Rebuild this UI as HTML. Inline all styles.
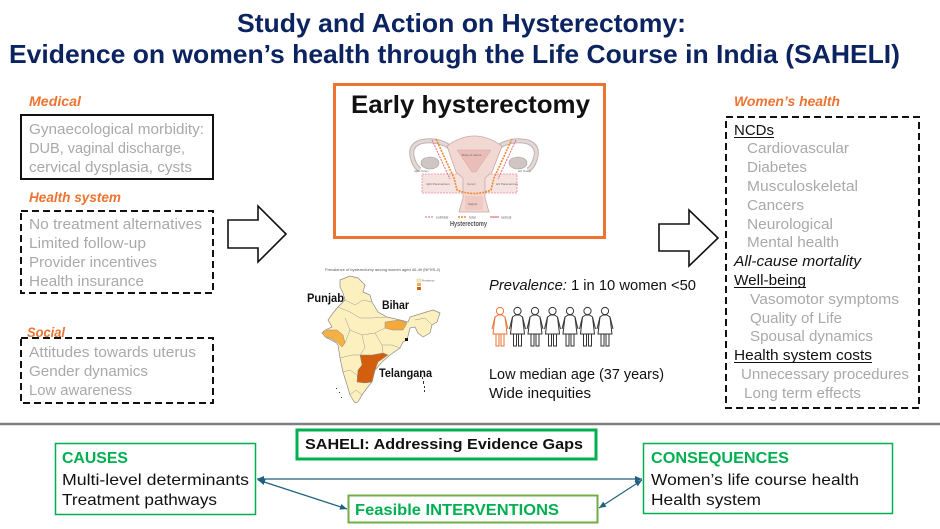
<!DOCTYPE html>
<html>
<head>
<meta charset="utf-8">
<style>
html,body{margin:0;padding:0;background:#fff;}
svg{display:block;}
text{font-family:"Liberation Sans",Arial,sans-serif;}
</style>
</head>
<body>
<svg width="940" height="529" viewBox="0 0 940 529" xmlns="http://www.w3.org/2000/svg">
<rect width="940" height="529" fill="#fff"/>

<!-- Title -->
<text x="237" y="32" font-size="26" font-weight="bold" fill="#0b2461" textLength="449" lengthAdjust="spacingAndGlyphs">Study and Action on Hysterectomy:</text>
<text x="9" y="63" font-size="26" font-weight="bold" fill="#0b2461" textLength="891" lengthAdjust="spacingAndGlyphs">Evidence on women’s health through the Life Course in India (SAHELI)</text>

<!-- Left column -->
<g font-size="13.5" font-weight="bold" font-style="italic" fill="#ed7331">
<text x="29" y="106" textLength="52" lengthAdjust="spacingAndGlyphs">Medical</text>
<text x="29" y="202" textLength="92" lengthAdjust="spacingAndGlyphs">Health system</text>
<text x="27" y="337" textLength="38" lengthAdjust="spacingAndGlyphs">Social</text>
</g>
<rect x="21" y="115" width="192" height="64" fill="none" stroke="#111" stroke-width="2"/>
<rect x="21" y="211" width="192" height="82" fill="none" stroke="#111" stroke-width="2" stroke-dasharray="7 4"/>
<rect x="21" y="338" width="192" height="65" fill="none" stroke="#111" stroke-width="2" stroke-dasharray="7 4"/>
<g font-size="15" fill="#a9a9a9">
<text x="29" y="134" textLength="175" lengthAdjust="spacingAndGlyphs">Gynaecological morbidity:</text>
<text x="29" y="153" textLength="156" lengthAdjust="spacingAndGlyphs">DUB, vaginal discharge,</text>
<text x="29" y="172" textLength="163" lengthAdjust="spacingAndGlyphs">cervical dysplasia, cysts</text>
<text x="29" y="229" textLength="173" lengthAdjust="spacingAndGlyphs">No treatment alternatives</text>
<text x="29" y="248" textLength="117" lengthAdjust="spacingAndGlyphs">Limited follow-up</text>
<text x="29" y="267" textLength="128" lengthAdjust="spacingAndGlyphs">Provider incentives</text>
<text x="29" y="286" textLength="115" lengthAdjust="spacingAndGlyphs">Health insurance</text>
<text x="29" y="357" textLength="167" lengthAdjust="spacingAndGlyphs">Attitudes towards uterus</text>
<text x="29" y="376" textLength="119" lengthAdjust="spacingAndGlyphs">Gender dynamics</text>
<text x="29" y="395" textLength="103" lengthAdjust="spacingAndGlyphs">Low awareness</text>
</g>

<!-- Block arrows -->
<polygon points="228,220 258,220 258,206 286,234 258,262 258,248 228,248" fill="#fff" stroke="#111" stroke-width="1.6" stroke-linejoin="miter"/>
<polygon points="659,224 689,224 689,210 718,238 689,266 689,251 659,251" fill="#fff" stroke="#111" stroke-width="1.6" stroke-linejoin="miter"/>

<!-- Early hysterectomy box -->
<rect x="334.5" y="84.5" width="270" height="153" fill="#fff" stroke="#ed7331" stroke-width="3"/>
<text x="351" y="113" font-size="25" font-weight="bold" fill="#111" textLength="239" lengthAdjust="spacingAndGlyphs">Early hysterectomy</text>

<!-- Uterus figure -->
<g>
  <!-- left tube & ovary -->
  <path d="M450,147 Q436,138 420,142 Q410,146 412,156 Q414,166 420,170" fill="none" stroke="#bdb3b1" stroke-width="5"/>
  <path d="M450,147 Q436,138 420,142 Q410,146 412,156 Q414,166 420,170" fill="none" stroke="#e3d8d6" stroke-width="3"/>
  <ellipse cx="430" cy="163" rx="9" ry="6" fill="#cfc6c4" stroke="#a9a09e" stroke-width="0.6"/>
  <!-- right tube & ovary -->
  <path d="M498,147 Q512,138 528,142 Q538,146 536,156 Q534,166 528,170" fill="none" stroke="#bdb3b1" stroke-width="5"/>
  <path d="M498,147 Q512,138 528,142 Q538,146 536,156 Q534,166 528,170" fill="none" stroke="#e3d8d6" stroke-width="3"/>
  <ellipse cx="518" cy="163" rx="9" ry="6" fill="#cfc6c4" stroke="#a9a09e" stroke-width="0.6"/>
  <!-- parametrium -->
  <rect x="422" y="174" width="95" height="19" fill="#f6e3e0" stroke="#e8899a" stroke-width="0.8" stroke-dasharray="2 1"/>
  <!-- uterus body -->
  <path d="M447,146 Q474,126 502,146 L492,172 L485,178 L485,198 L489,212 L459,212 L463,198 L463,178 L456,172 Z" fill="#f2d8d3" stroke="#c8a8a4" stroke-width="0.8"/>
  <path d="M457,150 L491,150 L476,172 L472,172 Z" fill="#e9bdb8" stroke="#d9a29d" stroke-width="0.5"/>
  <rect x="465" y="196" width="18" height="14" fill="#f0c9c4"/>
  <!-- cut lines -->
  <path d="M436,139 L454,178 L457,190 Q474,197 491,190 L494,178 L512,139" fill="none" stroke="#f08a2e" stroke-width="1.6" stroke-dasharray="2 1"/>
  <path d="M432,140 L450,179" fill="none" stroke="#e8697a" stroke-width="1" stroke-dasharray="2 1"/>
  <path d="M516,140 L498,179" fill="none" stroke="#e8697a" stroke-width="1" stroke-dasharray="2 1"/>
  <g font-size="3" fill="#666">
    <text x="462" y="156">Body of uterus</text>
    <text x="426" y="185">right Parametrium</text>
    <text x="496" y="185">left Parametrium</text>
    <text x="467" y="185">Cervix</text>
    <text x="468" y="205">Vagina</text>
    <text x="414" y="172">right Ovary</text>
    <text x="518" y="172">left Ovary</text>
  </g>
  <!-- legend -->
  <line x1="425" y1="217" x2="434" y2="217" stroke="#e8899a" stroke-width="1.2" stroke-dasharray="2 1"/>
  <text x="436" y="218.5" font-size="3.5" fill="#666">subtotal</text>
  <line x1="458" y1="217" x2="466" y2="217" stroke="#f08a2e" stroke-width="1.5" stroke-dasharray="2 1"/>
  <text x="469" y="218.5" font-size="3.5" fill="#666">total</text>
  <line x1="490" y1="217" x2="499" y2="217" stroke="#e8697a" stroke-width="1.2"/>
  <text x="501" y="218.5" font-size="3.5" fill="#666">radical</text>
  <text x="450" y="226" font-size="7.5" font-weight="bold" fill="#555" textLength="37" lengthAdjust="spacingAndGlyphs">Hysterectomy</text>
</g>

<!-- Map -->
<g>
  <text x="325" y="271" font-size="4" fill="#555" textLength="115" lengthAdjust="spacingAndGlyphs">Prevalence of hysterectomy among women aged 40-49 (NFHS-4)</text>
  <rect x="417" y="279" width="4" height="3" fill="#fdf0bf" stroke="#999" stroke-width="0.3"/>
  <rect x="417" y="283" width="4" height="3" fill="#f4b042"/>
  <rect x="417" y="287" width="4" height="3" fill="#d35f0e"/>
  <text x="422" y="281.5" font-size="2.5" fill="#666">Prevalence</text>
  <polygon points="340,280 350,276 358,278 365,285 363,292 370,295 372,302 378,312 387,317 400,320 408,322 410,317 423,313 433,310 440,313 437,322 432,325 430,333 423,337 418,333 415,327 410,328 407,340 403,342 400,348 390,355 382,362 375,370 372,382 367,388 362,395 358,402 355,403 350,395 347,385 343,372 340,358 338,345 335,342 327,338 322,333 325,330 332,327 328,320 333,313 338,307 345,300 343,293 340,287" fill="#fdf0bf" stroke="#8a8a8a" stroke-width="0.7"/>
  <!-- internal borders -->
  <g fill="none" stroke="#9a9a9a" stroke-width="0.5">
    <path d="M345,300 L355,305 L363,300 L372,302"/>
    <path d="M338,307 L350,312 L360,318 L372,318 L387,317"/>
    <path d="M345,318 L350,330 L345,343"/>
    <path d="M350,330 L362,335 L375,333 L385,328"/>
    <path d="M362,335 L365,348 L360,355"/>
    <path d="M375,333 L382,345 L392,345 L400,348"/>
    <path d="M382,345 L383,353"/>
    <path d="M340,358 L352,355 L360,355"/>
    <path d="M343,372 L350,370 L357,375 L358,382"/>
    <path d="M350,395 L356,390 L362,395"/>
    <path d="M415,320 L425,318 L432,325"/>
  </g>
  <polygon points="322,333 328,330 337,330 343,335 345,343 342,347 337,342 330,338 325,337" fill="#f4b042" stroke="#8a8a8a" stroke-width="0.5"/>
  <polygon points="385,322 400,320 407,323 403,330 393,330 385,328" fill="#f4a93a" stroke="#8a8a8a" stroke-width="0.5"/>
  <polygon points="360,355 372,355 383,353 388,355 378,362 375,370 372,382 365,383 357,382 358,370 362,365" fill="#d35f0e" stroke="#8a8a8a" stroke-width="0.5"/>
  <rect x="405" y="338" width="3" height="3" fill="#111"/>
  <g fill="#333">
    <rect x="422" y="377" width="1" height="2"/>
    <rect x="423" y="381" width="1" height="3"/>
    <rect x="424" y="386" width="1" height="2"/>
    <rect x="424" y="390" width="1" height="2"/>
    <rect x="336" y="388" width="1" height="1"/>
    <rect x="339" y="392" width="1" height="1"/>
    <rect x="341" y="397" width="1" height="1"/>
  </g>
  <g font-size="12" font-weight="bold" fill="#111">
    <text x="307" y="302" textLength="37" lengthAdjust="spacingAndGlyphs">Punjab</text>
    <text x="382" y="309" textLength="27" lengthAdjust="spacingAndGlyphs">Bihar</text>
    <text x="379" y="377" textLength="53" lengthAdjust="spacingAndGlyphs">Telangana</text>
  </g>
</g>

<!-- Prevalence text -->
<text x="489" y="290" font-size="15" fill="#111" textLength="207" lengthAdjust="spacingAndGlyphs"><tspan font-style="italic">Prevalence:</tspan> 1 in 10 women &lt;50</text>
<text x="489" y="379" font-size="15" fill="#111" textLength="175" lengthAdjust="spacingAndGlyphs">Low median age (37 years)</text>
<text x="489" y="398" font-size="15" fill="#111" textLength="102" lengthAdjust="spacingAndGlyphs">Wide inequities</text>

<!-- Women icons -->
<defs>
  <g id="woman">
    <circle cx="0" cy="-23" r="3.6" fill="#fff"/>
    <path d="M-2,-19 L-5,-17 L-7,-5 M-5,-17 L-7,0 L7,0 L5,-17 L7,-5 M5,-17 L2,-19 Z" fill="#fff"/>
    <path d="M-4,0 L-4,12 L-1,12 L-1,0 M1,0 L1,12 L4,12 L4,0" fill="#fff"/>
  </g>
</defs>
<g fill="none" stroke-width="1">
  <g stroke="#ed7331" transform="translate(500,334)">
    <circle cx="0" cy="-23" r="3.6"/>
    <path d="M-2,-19 L-5,-17 L-7,0 L7,0 L5,-17 L2,-19 Z"/>
    <path d="M-5,-17 L-8,-5 M5,-17 L8,-5"/>
    <path d="M-4,0 L-4,12 L-1,12 L-1,0 M1,0 L1,12 L4,12 L4,0"/>
  </g>
  <g stroke="#333">
    <g transform="translate(517.5,334)"><circle cx="0" cy="-23" r="3.6"/><path d="M-2,-19 L-5,-17 L-7,0 L7,0 L5,-17 L2,-19 Z"/><path d="M-5,-17 L-8,-5 M5,-17 L8,-5"/><path d="M-4,0 L-4,12 L-1,12 L-1,0 M1,0 L1,12 L4,12 L4,0"/></g>
    <g transform="translate(535,334)"><circle cx="0" cy="-23" r="3.6"/><path d="M-2,-19 L-5,-17 L-7,0 L7,0 L5,-17 L2,-19 Z"/><path d="M-5,-17 L-8,-5 M5,-17 L8,-5"/><path d="M-4,0 L-4,12 L-1,12 L-1,0 M1,0 L1,12 L4,12 L4,0"/></g>
    <g transform="translate(552.5,334)"><circle cx="0" cy="-23" r="3.6"/><path d="M-2,-19 L-5,-17 L-7,0 L7,0 L5,-17 L2,-19 Z"/><path d="M-5,-17 L-8,-5 M5,-17 L8,-5"/><path d="M-4,0 L-4,12 L-1,12 L-1,0 M1,0 L1,12 L4,12 L4,0"/></g>
    <g transform="translate(570,334)"><circle cx="0" cy="-23" r="3.6"/><path d="M-2,-19 L-5,-17 L-7,0 L7,0 L5,-17 L2,-19 Z"/><path d="M-5,-17 L-8,-5 M5,-17 L8,-5"/><path d="M-4,0 L-4,12 L-1,12 L-1,0 M1,0 L1,12 L4,12 L4,0"/></g>
    <g transform="translate(587.5,334)"><circle cx="0" cy="-23" r="3.6"/><path d="M-2,-19 L-5,-17 L-7,0 L7,0 L5,-17 L2,-19 Z"/><path d="M-5,-17 L-8,-5 M5,-17 L8,-5"/><path d="M-4,0 L-4,12 L-1,12 L-1,0 M1,0 L1,12 L4,12 L4,0"/></g>
    <g transform="translate(605,334)"><circle cx="0" cy="-23" r="3.6"/><path d="M-2,-19 L-5,-17 L-7,0 L7,0 L5,-17 L2,-19 Z"/><path d="M-5,-17 L-8,-5 M5,-17 L8,-5"/><path d="M-4,0 L-4,12 L-1,12 L-1,0 M1,0 L1,12 L4,12 L4,0"/></g>
  </g>
</g>

<!-- Right column -->
<text x="734" y="106" font-size="13.5" font-weight="bold" font-style="italic" fill="#ed7331" textLength="106" lengthAdjust="spacingAndGlyphs">Women’s health</text>
<rect x="726" y="117" width="193" height="291" fill="none" stroke="#111" stroke-width="2" stroke-dasharray="7 4"/>
<g font-size="15" fill="#111">
<text x="734" y="135" textLength="40" lengthAdjust="spacingAndGlyphs">NCDs</text>
<text x="734" y="266" font-style="italic" textLength="127" lengthAdjust="spacingAndGlyphs">All-cause mortality</text>
<text x="734" y="285" textLength="72" lengthAdjust="spacingAndGlyphs">Well-being</text>
<text x="734" y="360" textLength="138" lengthAdjust="spacingAndGlyphs">Health system costs</text>
</g>
<g stroke="#111" stroke-width="1">
<line x1="734" y1="137.5" x2="774" y2="137.5"/>
<line x1="734" y1="287.5" x2="806" y2="287.5"/>
<line x1="734" y1="362.5" x2="872" y2="362.5"/>
</g>
<g font-size="15" fill="#a9a9a9">
<text x="747" y="153" textLength="102" lengthAdjust="spacingAndGlyphs">Cardiovascular</text>
<text x="747" y="172" textLength="60" lengthAdjust="spacingAndGlyphs">Diabetes</text>
<text x="747" y="191" textLength="111" lengthAdjust="spacingAndGlyphs">Musculoskeletal</text>
<text x="747" y="210" textLength="57" lengthAdjust="spacingAndGlyphs">Cancers</text>
<text x="747" y="229" textLength="86" lengthAdjust="spacingAndGlyphs">Neurological</text>
<text x="747" y="247" textLength="92" lengthAdjust="spacingAndGlyphs">Mental health</text>
<text x="750" y="304" textLength="149" lengthAdjust="spacingAndGlyphs">Vasomotor symptoms</text>
<text x="750" y="323" textLength="92" lengthAdjust="spacingAndGlyphs">Quality of Life</text>
<text x="750" y="341" textLength="123" lengthAdjust="spacingAndGlyphs">Spousal dynamics</text>
<text x="741" y="379" textLength="168" lengthAdjust="spacingAndGlyphs">Unnecessary procedures</text>
<text x="744" y="398" textLength="117" lengthAdjust="spacingAndGlyphs">Long term effects</text>
</g>

<!-- Divider -->
<line x1="0" y1="424" x2="940" y2="424" stroke="#7f7f7f" stroke-width="2.5"/>

<!-- Bottom boxes -->
<rect x="55.5" y="443.5" width="200" height="71" fill="#fff" stroke="#00b050" stroke-width="1.5"/>
<text x="62" y="463" font-size="16" font-weight="bold" fill="#00b050" textLength="66" lengthAdjust="spacingAndGlyphs">CAUSES</text>
<text x="62" y="485" font-size="16" fill="#111" textLength="187" lengthAdjust="spacingAndGlyphs">Multi-level determinants</text>
<text x="62" y="505" font-size="16" fill="#111" textLength="155" lengthAdjust="spacingAndGlyphs">Treatment pathways</text>

<rect x="297" y="430" width="299" height="29" fill="#fff" stroke="#00b050" stroke-width="3"/>
<text x="305" y="449" font-size="15" font-weight="bold" fill="#111" textLength="278" lengthAdjust="spacingAndGlyphs">SAHELI: Addressing Evidence Gaps</text>

<rect x="348.5" y="495.5" width="249" height="27" fill="#fff" stroke="#70ad47" stroke-width="2"/>
<text x="355" y="515" font-size="16" font-weight="bold" fill="#00b050" textLength="204" lengthAdjust="spacingAndGlyphs">Feasible INTERVENTIONS</text>

<rect x="643.5" y="443.5" width="249" height="70" fill="#fff" stroke="#00b050" stroke-width="1.5"/>
<text x="651" y="463" font-size="16" font-weight="bold" fill="#00b050" textLength="138" lengthAdjust="spacingAndGlyphs">CONSEQUENCES</text>
<text x="651" y="485" font-size="16" fill="#111" textLength="208" lengthAdjust="spacingAndGlyphs">Women’s life course health</text>
<text x="651" y="505" font-size="16" fill="#111" textLength="110" lengthAdjust="spacingAndGlyphs">Health system</text>

<!-- Connectors -->
<defs>
  <marker id="ah" markerWidth="8" markerHeight="8" refX="7" refY="4" orient="auto-start-reverse" markerUnits="userSpaceOnUse">
    <path d="M0,1 L7,4 L0,7 Z" fill="#1f5f7f"/>
  </marker>
</defs>
<g stroke="#1f5f7f" stroke-width="1.2" fill="none">
  <line x1="257" y1="479" x2="642" y2="479" marker-start="url(#ah)" marker-end="url(#ah)"/>
  <line x1="258" y1="480" x2="347" y2="509" marker-start="url(#ah)" marker-end="url(#ah)"/>
  <line x1="599" y1="508" x2="642" y2="480" marker-start="url(#ah)" marker-end="url(#ah)"/>
</g>
</svg>
</body>
</html>
